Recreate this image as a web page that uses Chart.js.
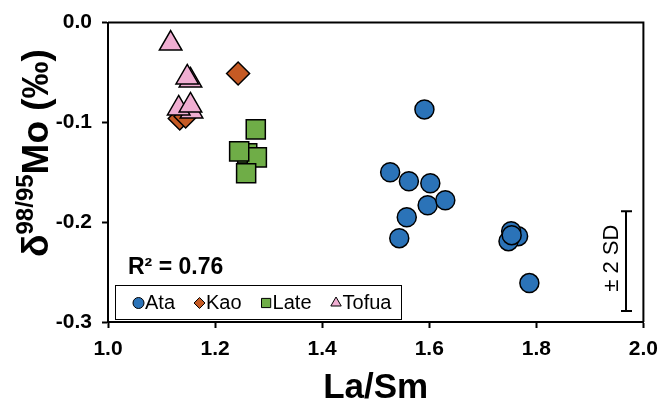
<!DOCTYPE html>
<html>
<head>
<meta charset="utf-8">
<script src="https://cdn.jsdelivr.net/npm/chart.js@4.4.0/dist/chart.umd.min.js"></script>
<style>
  html, body { margin: 0; padding: 0; background: #fff; }
</style>
</head>
<body>
<canvas id="mo-chart" width="667" height="403"></canvas>
<script>
// values: La/Sm vs d98/95Mo (permil)
const ataLaSm = [1.591, 1.527, 1.562, 1.602, 1.597, 1.630, 1.558, 1.544, 1.766, 1.748, 1.753, 1.754, 1.787];
const ataMo = [-0.087, -0.150, -0.159, -0.161, -0.183, -0.178, -0.195, -0.216, -0.214, -0.219, -0.209, -0.213, -0.261];

const kaoLaSm = [1.243, 1.134, 1.145];
const kaoMo = [-0.051, -0.096, -0.094];

const lateLaSm = [1.276, 1.260, 1.278, 1.245, 1.258];
const lateMo = [-0.107, -0.131, -0.135, -0.129, -0.151];

const tofuaLaSm = [1.117, 1.154, 1.148, 1.156, 1.132, 1.154];
const tofuaMo = [-0.021, -0.058, -0.055, -0.089, -0.086, -0.083];

const xTicks = [1.0, 1.2, 1.4, 1.6, 1.8, 2.0];
const yTicks = [0.0, -0.1, -0.2, -0.3];

const rSquared = 'R\u00B2 = 0.76';
// analytical uncertainty bar (+/- 2 SD), in data units
const sdX = 1.968;
const sdCenter = -0.239;
const sdHalf = 0.05;

const FONT = "'Liberation Sans', Arial, sans-serif";

function toPoints(xs, ys) {
  return xs.map(function (x, i) { return { x: x, y: ys[i] }; });
}

const legendSize = { Ata: 5.5, Kao: 5.5, Late: 6.5, Tofua: 6 };

const frameAndNotes = {
  id: 'frameAndNotes',
  beforeDatasetsDraw(chart) {
    const ctx = chart.ctx, a = chart.chartArea;
    ctx.save();
    ctx.strokeStyle = '#000';
    ctx.lineWidth = 2;
    ctx.beginPath();
    ctx.moveTo(a.left, a.top);
    ctx.lineTo(a.right, a.top);
    ctx.lineTo(a.right, a.bottom);
    ctx.stroke();

    // +/- 2 SD bar
    const xs = chart.scales.x, ys = chart.scales.y;
    const bx = Math.round(xs.getPixelForValue(sdX));
    const y1 = ys.getPixelForValue(sdCenter + sdHalf);
    const y2 = ys.getPixelForValue(sdCenter - sdHalf);
    ctx.beginPath();
    ctx.moveTo(bx, y1); ctx.lineTo(bx, y2);
    ctx.moveTo(bx - 5, y1); ctx.lineTo(bx + 6, y1);
    ctx.moveTo(bx - 5, y2); ctx.lineTo(bx + 6, y2);
    ctx.stroke();
    ctx.translate(bx - 8, (y1 + y2) / 2 - 3);
    ctx.rotate(-Math.PI / 2);
    ctx.fillStyle = '#000';
    ctx.font = '22px ' + FONT;
    ctx.textAlign = 'center';
    ctx.textBaseline = 'alphabetic';
    ctx.fillText('\u00B1 2 SD', 0, 0);
    ctx.restore();

    ctx.save();
    ctx.fillStyle = '#000';
    ctx.font = 'bold 23px ' + FONT;
    ctx.textBaseline = 'alphabetic';
    ctx.fillText(rSquared, a.left + 20, a.bottom - 48);
    ctx.restore();
  },
  afterDatasetsDraw(chart) {
    const ctx = chart.ctx, a = chart.chartArea;
    const left = a.left + 7, top = a.bottom - 37, w = 286, h = 34;
    ctx.save();
    ctx.fillStyle = '#fff';
    ctx.fillRect(left, top, w, h);
    ctx.strokeStyle = '#000';
    ctx.lineWidth = 1;
    ctx.strokeRect(left + 0.5, top + 0.5, w, h);
    ctx.font = '20px ' + FONT;
    ctx.textBaseline = 'middle';
    let x = left + 18;
    const cy = top + h / 2 + 1;
    chart.data.datasets.forEach(function (ds) {
      ctx.fillStyle = ds.backgroundColor;
      ctx.strokeStyle = '#000';
      ctx.lineWidth = 1;
      Chart.helpers.drawPoint(ctx, {
        pointStyle: ds.pointStyle, radius: legendSize[ds.label], rotation: 0, borderWidth: 1
      }, x + 5.5, cy);
      ctx.fillStyle = '#000';
      ctx.fillText(ds.label, x + 12, cy);
      x += 12 + ctx.measureText(ds.label).width + 19;
    });
    ctx.restore();
  },
  afterDraw(chart) {
    const ctx = chart.ctx, a = chart.chartArea;
    ctx.save();
    ctx.fillStyle = '#000';
    ctx.textBaseline = 'alphabetic';
    // x title
    ctx.font = 'bold 35px ' + FONT;
    ctx.textAlign = 'center';
    ctx.fillText('La/Sm', (a.left + a.right) / 2, 398);
    // y title with superscript
    ctx.textAlign = 'left';
    const big = 'bold 37px ' + FONT, small = 'bold 24px ' + FONT;
    ctx.font = big;
    const wD = ctx.measureText('\u03B4').width;
    const wM = ctx.measureText('Mo (\u2030)').width;
    ctx.font = small;
    const wS = ctx.measureText('98/95').width;
    const total = wD + wS + wM;
    ctx.translate(48, 153);
    ctx.rotate(-Math.PI / 2);
    let tx = -total / 2;
    ctx.font = big; ctx.fillText('\u03B4', tx, 0); tx += wD;
    ctx.font = small; ctx.fillText('98/95', tx, -15); tx += wS;
    ctx.font = big; ctx.fillText('Mo (\u2030)', tx, 0);
    ctx.restore();
  }
};

const ctx = document.getElementById('mo-chart').getContext('2d');

const chart = new Chart(ctx, {
  type: 'scatter',
  data: {
    datasets: [
      {
        label: 'Ata',
        data: toPoints(ataLaSm, ataMo),
        pointStyle: 'circle',
        pointRadius: 9.5,
        backgroundColor: '#2B73B8',
        borderColor: '#000',
        borderWidth: 1.5,
        order: 3
      },
      {
        label: 'Kao',
        data: toPoints(kaoLaSm, kaoMo),
        pointStyle: 'rectRot',
        pointRadius: 11.5,
        backgroundColor: '#C55A24',
        borderColor: '#000',
        borderWidth: 1.5,
        order: 2
      },
      {
        label: 'Late',
        data: toPoints(lateLaSm, lateMo),
        pointStyle: 'rect',
        pointRadius: 13.5,
        backgroundColor: '#6FAD47',
        borderColor: '#000',
        borderWidth: 1.5,
        order: 1
      },
      {
        label: 'Tofua',
        data: toPoints(tofuaLaSm, tofuaMo),
        pointStyle: 'triangle',
        pointRadius: 13,
        backgroundColor: '#F0AED2',
        borderColor: '#000',
        borderWidth: 1.5,
        order: 0
      }
    ]
  },
  options: {
    responsive: false,
    animation: false,
    events: [],
    layout: { padding: { left: 0, top: 22, right: 20, bottom: 0 } },
    plugins: {
      legend: { display: false },
      tooltip: { enabled: false }
    },
    scales: {
      x: {
        type: 'linear',
        min: 1.0,
        max: 2.0,
        afterFit: function (scale) { scale.height = 81; },
        afterBuildTicks: function (scale) {
          scale.ticks = xTicks.map(function (v) { return { value: v }; });
        },
        ticks: {
          color: '#000',
          padding: 9,
          font: { family: FONT, size: 21, weight: 'bold' },
          callback: function (v) { return Number(v).toFixed(1); }
        },
        grid: { drawOnChartArea: false, drawTicks: true, tickLength: 6, tickColor: '#000', tickWidth: 2 },
        border: { display: true, color: '#000', width: 2 }
      },
      y: {
        type: 'linear',
        min: -0.3,
        max: 0.0,
        afterFit: function (scale) { scale.width = 108; },
        afterBuildTicks: function (scale) {
          scale.ticks = yTicks.map(function (v) { return { value: v }; });
        },
        ticks: {
          color: '#000',
          padding: 10,
          font: { family: FONT, size: 21, weight: 'bold' },
          callback: function (v) { return Number(v).toFixed(1); }
        },
        grid: { drawOnChartArea: false, drawTicks: true, tickLength: 6, tickColor: '#000', tickWidth: 2 },
        border: { display: true, color: '#000', width: 2 }
      }
    }
  },
  plugins: [frameAndNotes]
});
</script>
</body>
</html>
